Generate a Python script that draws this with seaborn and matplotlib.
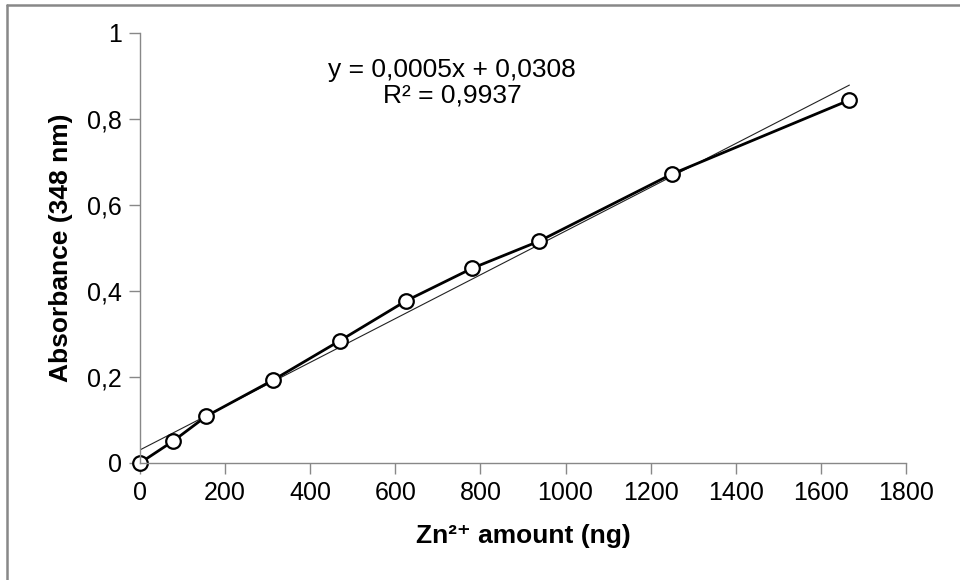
import matplotlib
matplotlib.use("Agg")
import matplotlib.pyplot as plt
import seaborn as sns
import numpy as np
import pandas as pd
from matplotlib.lines import Line2D

# Data
zn_amount = [0, 78, 156, 313, 469, 625, 781, 938, 1250, 1667]
absorbance = [0.0, 0.051, 0.109, 0.193, 0.284, 0.377, 0.453, 0.516, 0.672, 0.844]
x_ticks = [0, 200, 400, 600, 800, 1000, 1200, 1400, 1600, 1800]
y_ticks = [0, 0.2, 0.4, 0.6, 0.8, 1.0]
y_tick_labels = ["0", "0,2", "0,4", "0,6", "0,8", "1"]
equation_text = "y = 0,0005x + 0,0308\nR\u00b2 = 0,9937"
x_label = "Zn\u00b2\u207a amount (ng)"
y_label = "Absorbance (348 nm)"

sns.set_theme(style="white")
plt.rcParams['font.family'] = ['Liberation Sans', 'DejaVu Sans']
plt.rcParams['text.color'] = 'black'
plt.rcParams['axes.labelcolor'] = 'black'

df = pd.DataFrame({"x": zn_amount, "y": absorbance})

fig = plt.figure(figsize=(9.6, 5.8), dpi=100)
ax = fig.add_axes([140/960, 1-463/580, (906-140)/960, (463-33)/580])

# linear trend line
sns.regplot(data=df, x="x", y="y", ax=ax, ci=None, scatter=False,
            line_kws=dict(color="#222222", lw=0.8), truncate=True)
# data line with markers
sns.lineplot(data=df, x="x", y="y", ax=ax, color="black", lw=2,
             marker="o", markersize=10.5, markerfacecolor="white",
             markeredgecolor="black", markeredgewidth=1.6, clip_on=False)

ax.set_xlim(0, 1800)
ax.set_ylim(0, 1)
ax.set_xticks(x_ticks)
ax.set_xticklabels([str(t) for t in x_ticks])
ax.set_yticks(y_ticks)
ax.set_yticklabels(y_tick_labels)

for s in ["top", "right"]:
    ax.spines[s].set_visible(False)
for s in ["left", "bottom"]:
    ax.spines[s].set_color("#888888")
    ax.spines[s].set_linewidth(1.0)

ax.tick_params(axis="both", which="major", direction="out", length=8,
               width=1.0, color="#888888", labelsize=18, labelcolor="black",
               pad=5, left=True, bottom=True)

ax.set_xlabel(x_label, fontsize=19, fontweight="bold", labelpad=14, color="black")
ax.set_ylabel(y_label, fontsize=19, fontweight="bold", labelpad=10, color="black")

ax.text(733, 0.884, equation_text, ha="center", va="center", color="black",
        multialignment="center", fontsize=19, linespacing=1.05)

# partial figure frame (top and left)
fig.add_artist(Line2D([7/960, 7/960], [0, 1-5/580], transform=fig.transFigure,
                      color="#888888", lw=1.8))
fig.add_artist(Line2D([7/960, 1], [1-5/580, 1-5/580], transform=fig.transFigure,
                      color="#888888", lw=1.8))

fig.savefig("out.png", dpi=100)
